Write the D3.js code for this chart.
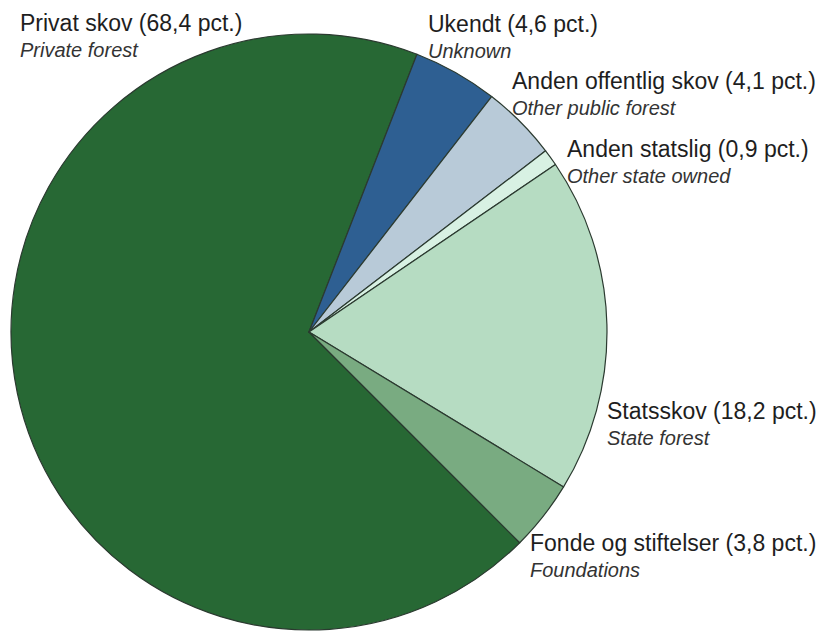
<!DOCTYPE html>
<html>
<head>
<meta charset="utf-8">
<script src="https://cdn.jsdelivr.net/npm/d3@7"></script>
<style>
  html, body { margin: 0; padding: 0; background: #fff; }
  svg { display: block; }
</style>
</head>
<body>
<div id="chart"></div>
<script>
// data, in drawing order (clockwise from lower right)
var names = ['Privat skov', 'Ukendt', 'Anden offentlig skov', 'Anden statslig', 'Statsskov', 'Fonde og stiftelser'];
var englishNames = ['Private forest', 'Unknown', 'Other public forest', 'Other state owned', 'State forest', 'Foundations'];
var shares = [68.4, 4.6, 4.1, 0.9, 18.2, 3.8];

(function (d3) {
    'use strict';

    var width = 823, height = 631;
    var cx = 309, cy = 332, radius = 298;

    var colors = ['#276834', '#2e5f92', '#b8cad8', '#d8f1e3', '#b6dcc2', '#79ab81'];

    // label anchor (left x, baseline y) for each slice
    var labelPos = [[20, 31], [428, 32], [512, 89], [567, 157], [607, 419], [530, 551]];

    var svg = d3.select('#chart')
        .append('svg')
        .attr('width', width)
        .attr('height', height);

    var pie = d3.pie()
        .sort(null)
        .value(function (d) { return d; })
        .startAngle(Math.PI * 0.75)
        .endAngle(Math.PI * 0.75 + 2 * Math.PI);

    var arc = d3.arc().innerRadius(0).outerRadius(radius);

    var g = svg.append('g').attr('transform', 'translate(' + cx + ',' + cy + ')');

    g.selectAll('path')
        .data(pie(shares))
        .enter()
        .append('path')
        .attr('d', arc)
        .attr('fill', function (d, i) { return colors[i]; })
        .attr('stroke', '#2b3a30')
        .attr('stroke-width', 1.2)
        .attr('stroke-linejoin', 'round');

    function fmt(v) {
        return v.toFixed(1).replace('.', ',');
    }

    var labels = svg.selectAll('g.label')
        .data(shares)
        .enter()
        .append('g')
        .attr('class', 'label')
        .attr('transform', function (d, i) { return 'translate(' + labelPos[i][0] + ',' + labelPos[i][1] + ')'; });

    labels.append('text')
        .attr('font-family', 'Liberation Sans, Arial, sans-serif')
        .attr('font-size', 23)
        .attr('fill', '#1e1e1e')
        .text(function (d, i) { return names[i] + ' (' + fmt(d) + ' pct.)'; });

    labels.append('text')
        .attr('y', 26)
        .attr('font-family', 'Liberation Sans, Arial, sans-serif')
        .attr('font-size', 20)
        .attr('font-style', 'italic')
        .attr('fill', '#333')
        .text(function (d, i) { return englishNames[i]; });

}(window.d3));
</script>
</body>
</html>
